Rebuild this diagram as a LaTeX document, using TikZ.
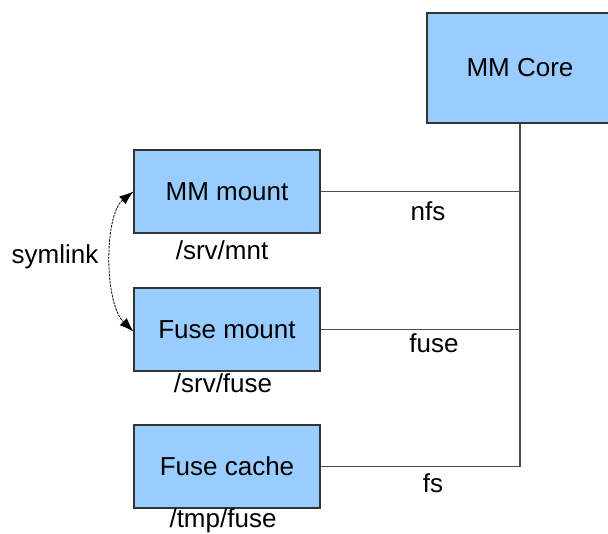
\documentclass[tikz,border=0pt]{standalone}
\usepackage{fontspec}
\setmainfont{Liberation Sans}
\usetikzlibrary{arrows.meta}
\definecolor{boxfill}{HTML}{99CCFF}
\definecolor{boxline}{HTML}{333333}
\definecolor{wire}{HTML}{4D4D4D}
\tikzset{
  unit/.style={draw=boxline, fill=boxfill, line width=1.2pt,
    minimum width=186pt, minimum height=83pt, inner sep=0pt,
    font=\fontsize{26}{30}\selectfont},
  caption/.style={font=\fontsize{26}{30}\selectfont, inner sep=0pt},
  link/.style={draw=wire, line width=1.3pt},
  symarrow/.style={line width=0.8pt, dash pattern=on 2.5pt off 1pt,
    {Latex[length=14pt,width=10pt]}-{Latex[length=14pt,width=10pt]}}
}
\begin{document}
\begin{tikzpicture}[x=1pt,y=-1pt]
\useasboundingbox (0,0) rectangle (608,534);
\begin{scope}
\clip (0,0) rectangle (608,534);
\node[unit, minimum height=110pt] (core) at (520,68) {MM Core};
\end{scope}
\node[unit] (mm) at (227,191.5) {MM mount};
\node[unit] (fm) at (227,329.5) {Fuse mount};
\node[unit] (fc) at (227,466.5) {Fuse cache};

\coordinate (j) at (520,466.5);
\draw[link] (core.south) -- (j) -- (fc.east);
\draw[link] (mm.east) -- (mm.east -| core.south);
\draw[link] (fm.east) -- (fm.east -| core.south);

\node[caption] (lnfs) at (428,211) {nfs};
\node[caption] (lfuse) at (434,343) {fuse};
\node[caption] (lfs) at (433,483) {fs};

\node[caption] (pmnt) at (222,250) {/srv/mnt};
\node[caption] (pfuse) at (223,383) {/srv/fuse};
\node[caption] (ptmp) at (223,521) {/tmp/fuse};

\node[caption] (sym) at (55,257) {symlink};
\draw[symarrow] (mm.west) .. controls (104,215) and (104,303) .. ([yshift=-2pt]fm.west);
\end{tikzpicture}
\end{document}
